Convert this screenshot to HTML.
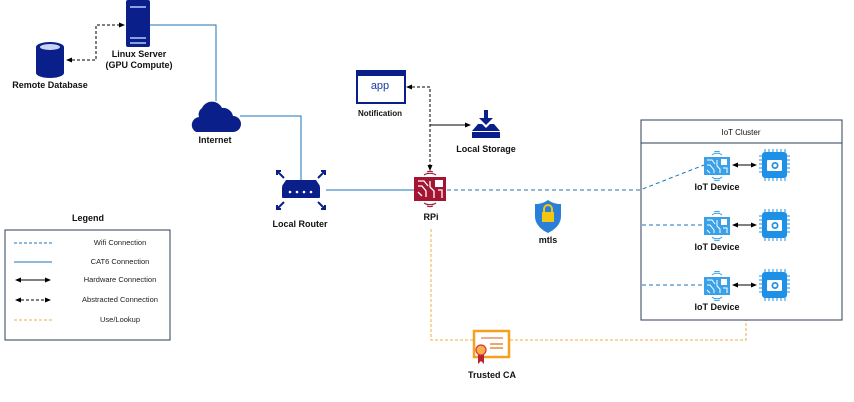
<!DOCTYPE html>
<html><head><meta charset="utf-8"><style>
html,body{margin:0;padding:0;background:#fff;}
svg{display:block;font-family:"Liberation Sans",Arial,sans-serif;}
.l{font-size:9px;font-weight:bold;fill:#111;}
.s{font-size:7.5px;fill:#222;}
</style></head><body>
<svg width="854" height="402" viewBox="0 0 854 402" xmlns="http://www.w3.org/2000/svg">
<defs>
<marker id="ab" markerWidth="6" markerHeight="6" refX="5" refY="3" orient="auto-start-reverse"><path d="M0,0.5 L6,3 L0,5.5 Z" fill="#000"/></marker>
</defs>
<!-- connections -->
<path d="M67,60 H96 V25 H124" fill="none" stroke="#000" stroke-width="1" stroke-dasharray="3,2" marker-start="url(#ab)" marker-end="url(#ab)"/>
<path d="M150,25 H216 V101" fill="none" stroke="#1a73b8" stroke-width="1"/>
<path d="M240,116 H301 V180" fill="none" stroke="#1a73b8" stroke-width="1"/>
<path d="M326,190 H415" fill="none" stroke="#1a73b8" stroke-width="1"/>
<path d="M447,190 H640 L704,165" fill="none" stroke="#1a73b8" stroke-width="1" stroke-dasharray="4,3"/>
<path d="M642,225 H704 M642,285 H704" fill="none" stroke="#1a73b8" stroke-width="1" stroke-dasharray="4,3"/>
<path d="M407,87 H430 V170" fill="none" stroke="#000" stroke-width="1" stroke-dasharray="3,2" marker-start="url(#ab)" marker-end="url(#ab)"/>
<path d="M430,125 H470" fill="none" stroke="#000" stroke-width="1" marker-end="url(#ab)"/>
<path d="M431,229 V340 H474 M510,340 H746 V320" fill="none" stroke="#e8b040" stroke-width="1" stroke-dasharray="3,2"/>
<!-- server -->
<rect x="126" y="0" width="24" height="47" rx="2" fill="#0b1f8a"/>
<rect x="130" y="6" width="16" height="2" fill="#8aa0e0"/>
<rect x="130" y="37" width="16" height="2" fill="#8aa0e0"/>
<rect x="130" y="42" width="16" height="2" fill="#8aa0e0"/>
<text class="l" x="139" y="57" text-anchor="middle">Linux Server</text>
<text class="l" x="139" y="68" text-anchor="middle">(GPU Compute)</text>
<!-- database -->
<path d="M36,47 V73 A14,5 0 0 0 64,73 V47 Z" fill="#0b1f8a"/>
<ellipse cx="50" cy="47" rx="14" ry="5" fill="#0b1f8a"/>
<ellipse cx="50" cy="47" rx="10" ry="3" fill="#c8d4f0"/>
<text class="l" x="50" y="88" text-anchor="middle">Remote Database</text>
<!-- cloud -->
<path d="M196,132 H233 A8,8 0 0 0 233,116 A10,10 0 0 0 222,108 A11,11 0 0 0 202,108 A8,8 0 0 0 199,117 A8,8 0 0 0 196,132 Z" fill="#0b1f8a"/>
<text class="l" x="215" y="143" text-anchor="middle">Internet</text>
<!-- router -->
<path d="M286,180 H316 L320,186 H282 Z" fill="#0b1f8a"/>
<rect x="282" y="186" width="38" height="12" rx="1" fill="#0b1f8a"/>
<circle cx="290" cy="192" r="1.3" fill="#fff"/><circle cx="297" cy="192" r="1.3" fill="#fff"/><circle cx="304" cy="192" r="1.3" fill="#fff"/><circle cx="311" cy="192" r="1.3" fill="#fff"/>
<g stroke="#0b1f8a" stroke-width="2" fill="none">
<path d="M284,178 L277,171 M277,175 V171 H281"/>
<path d="M318,178 L325,171 M321,171 H325 V175"/>
<path d="M284,202 L277,209 M277,205 V209 H281"/>
<path d="M318,202 L325,209 M321,209 H325 V205"/>
</g>
<text class="l" x="300" y="227" text-anchor="middle">Local Router</text>
<!-- RPi -->
<rect x="414" y="177" width="32" height="24" fill="#a31533"/>
<path d="M418,181 H424 L428,186 M418,186 H422 L426,191 V197 M418,192 L422,196 M430,181 V187 L434,191 V198 M438,190 H442 V198" stroke="#fff" stroke-width="1.3" fill="none"/>
<rect x="435" y="180" width="8" height="7" fill="#fff"/>
<path d="M424,175 A8,5 0 0 1 436,175 M427,172 A5,3 0 0 1 433,172" stroke="#a31533" stroke-width="1.2" fill="none"/>
<path d="M424,203 A8,5 0 0 0 436,203 M427,206 A5,3 0 0 0 433,206" stroke="#a31533" stroke-width="1.2" fill="none"/>
<text class="l" x="431" y="220" text-anchor="middle">RPi</text>
<!-- notification -->
<rect x="357" y="71" width="48" height="32" fill="#fff" stroke="#0b1f8a" stroke-width="2"/>
<rect x="357" y="71" width="48" height="5" fill="#0b1f8a"/>
<text x="380" y="89" text-anchor="middle" font-size="11" fill="#1a3aa0">app</text>
<text class="l" x="380" y="116" text-anchor="middle" style="font-size:8px">Notification</text>
<!-- storage -->
<rect x="484" y="110" width="4" height="10" fill="#0b1f8a"/>
<path d="M479,118 H493 L486,125 Z" fill="#0b1f8a"/>
<path d="M478,124 H482 L486,128 L490,124 H494 L500,131 H472 Z" fill="#0b1f8a"/>
<rect x="472" y="132" width="28" height="6" fill="#0b1f8a"/>
<text class="l" x="486" y="152" text-anchor="middle">Local Storage</text>
<!-- shield -->
<path d="M548,200 C542,204 538,204 535,204 V216 C535,225 542,230 548,233 C554,230 561,225 561,216 V204 C558,204 554,204 548,200 Z" fill="#2a7fd8"/>
<rect x="542" y="212" width="12" height="10" fill="#f2c511"/>
<path d="M544,212 V209 A4,4 0 0 1 552,209 V212" stroke="#f2c511" stroke-width="2" fill="none"/>
<text class="l" x="548" y="243" text-anchor="middle">mtls</text>
<!-- CA -->
<rect x="474" y="331" width="35" height="26" fill="#fff" stroke="#f7a01f" stroke-width="2.5"/>
<path d="M481,338 H503" stroke="#e25b1a" stroke-width="1"/>
<path d="M490,344 H503 M490,348 H503" stroke="#e8893c" stroke-width="1.5"/>
<path d="M478,352 V364 L481,361 L484,364 V352 Z" fill="#b5232e"/>
<circle cx="481" cy="350" r="5" fill="#f7b14a" stroke="#e0303a" stroke-width="1.2"/>
<text class="l" x="492" y="378" text-anchor="middle">Trusted CA</text>
<!-- IoT cluster -->
<rect x="641" y="120" width="201" height="200" fill="none" stroke="#2b3d55" stroke-width="1"/>
<line x1="641" y1="143" x2="842" y2="143" stroke="#2b3d55" stroke-width="1"/>
<text x="741" y="135" text-anchor="middle" font-size="8" fill="#111">IoT Cluster</text>
<g id="dev">
<rect x="704" y="157" width="26" height="18" fill="#3aa0e8"/>
<path d="M707,160 H712 L715,164 M707,165 H710 L714,170 V173 M707,170 L710,173 M717,160 V166 L720,169 V173 M723,168 H727 V173" stroke="#fff" stroke-width="1" fill="none"/>
<rect x="721" y="159" width="6" height="6" fill="#fff"/>
<path d="M712,155 A6,4 0 0 1 722,155 M714,152 A4,2 0 0 1 720,152 M712,177 A6,4 0 0 0 722,177 M714,180 A4,2 0 0 0 720,180" stroke="#3aa0e8" stroke-width="1" fill="none"/>
<path d="M733,165 H756" stroke="#000" stroke-width="1" marker-start="url(#ab)" marker-end="url(#ab)"/>
<rect x="762" y="152" width="25" height="26" rx="3" fill="#1e90e6"/>
<path d="M765,152 V149 M769,152 V149 M773,152 V149 M777,152 V149 M781,152 V149 M785,152 V149 M765,178 V181 M769,178 V181 M773,178 V181 M777,178 V181 M781,178 V181 M785,178 V181 M762,156 H759 M762,160 H759 M762,164 H759 M762,168 H759 M762,172 H759 M787,156 H790 M787,160 H790 M787,164 H790 M787,168 H790 M787,172 H790" stroke="#1e90e6" stroke-width="1"/>
<rect x="767" y="160" width="15" height="11" rx="1" fill="#fff"/>
<circle cx="775" cy="165.5" r="3.5" fill="#1e90e6"/><circle cx="775" cy="165.5" r="1.8" fill="#fff"/>
<text class="l" x="717" y="190" text-anchor="middle">IoT Device</text>
</g>
<use href="#dev" y="60"/>
<use href="#dev" y="120"/>
<!-- legend -->
<text class="l" x="88" y="221" text-anchor="middle">Legend</text>
<rect x="5" y="230" width="165" height="110" fill="#fff" stroke="#2b3d55" stroke-width="1"/>
<line x1="14" y1="243" x2="52" y2="243" stroke="#1a73b8" stroke-dasharray="3,2"/>
<line x1="14" y1="262" x2="52" y2="262" stroke="#1a73b8"/>
<line x1="16" y1="280" x2="50" y2="280" stroke="#000" marker-start="url(#ab)" marker-end="url(#ab)"/>
<line x1="16" y1="300" x2="50" y2="300" stroke="#000" stroke-dasharray="3,2" marker-start="url(#ab)" marker-end="url(#ab)"/>
<line x1="14" y1="320" x2="52" y2="320" stroke="#e8b040" stroke-dasharray="3,2"/>
<text class="s" x="120" y="245" text-anchor="middle">Wifi Connection</text>
<text class="s" x="120" y="264" text-anchor="middle">CAT6 Connection</text>
<text class="s" x="120" y="282" text-anchor="middle">Hardware Connection</text>
<text class="s" x="120" y="302" text-anchor="middle">Abstracted Connection</text>
<text class="s" x="120" y="322" text-anchor="middle">Use/Lookup</text>
</svg>
</body></html>
